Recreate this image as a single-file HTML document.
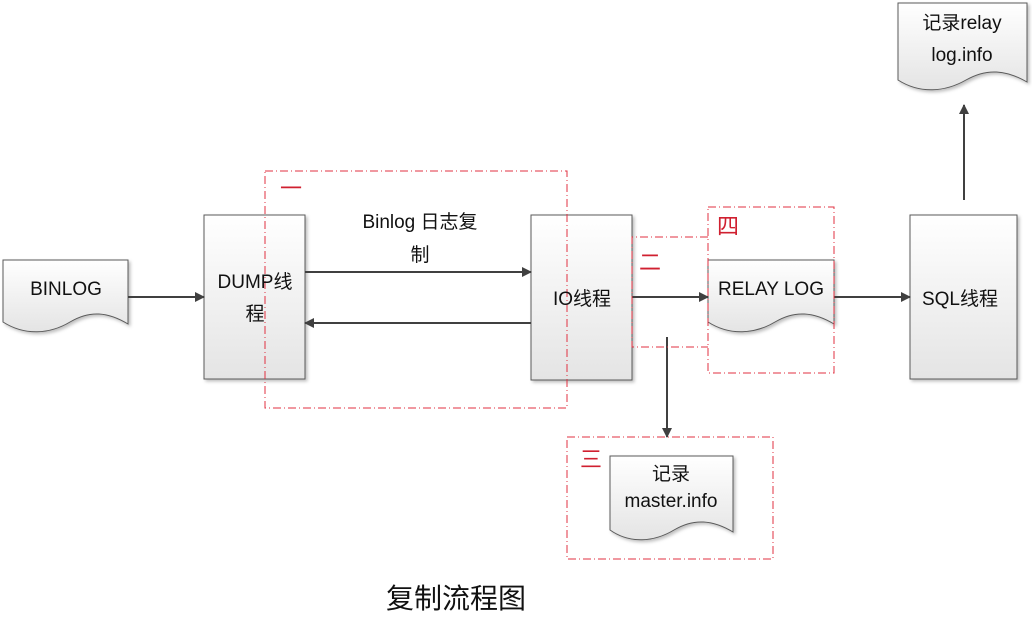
<!DOCTYPE html>
<html><head><meta charset="utf-8"><style>
html,body{margin:0;padding:0;background:#fff;}
svg{display:block;}
text{font-family:"Liberation Sans","Noto Sans CJK SC",sans-serif;fill:#111;}
</style></head><body>
<svg width="1032" height="624" viewBox="0 0 1032 624" xmlns="http://www.w3.org/2000/svg">
<defs>
<linearGradient id="g" x1="0" y1="0" x2="0" y2="1"><stop offset="0" stop-color="#ffffff"/><stop offset="1" stop-color="#e4e4e4"/></linearGradient>
<marker id="ah" markerWidth="10" markerHeight="10" refX="9" refY="5" orient="auto" markerUnits="userSpaceOnUse"><path d="M0,0 L10,5 L0,10 Z" fill="#404040"/></marker>
<filter id="sh" x="-10%" y="-10%" width="130%" height="130%"><feDropShadow dx="2" dy="2" stdDeviation="1.5" flood-color="#000" flood-opacity="0.25"/></filter>
</defs>
<g stroke="#5a5a5a" stroke-width="1" fill="url(#g)" filter="url(#sh)">
<!-- BINLOG doc -->
<path d="M3,260 H128 V324 C108,312 90,310 70,322 C50,334 25,336 3,322 Z"/>
<!-- DUMP box -->
<rect x="204" y="215" width="101" height="164"/>
<!-- IO box -->
<rect x="531" y="215" width="101" height="165"/>
<!-- RELAY LOG -->
<path d="M708,260 H834 V324 C814,312 795,310 775,322 C755,334 730,336 708,322 Z"/>
<!-- SQL box -->
<rect x="910" y="215" width="107" height="164"/>
<!-- relay log.info -->
<path d="M898,3 H1027 V82 C1006,70 987,68 966,80 C945,92 920,94 898,80 Z"/>
<!-- master.info -->
<path d="M610,456 H733 V532 C713,520 694,518 674,530 C654,542 630,544 610,530 Z"/>
</g>
<!-- arrows -->
<g stroke="#404040" stroke-width="2" fill="none">
<line x1="128" y1="297" x2="204" y2="297" marker-end="url(#ah)"/>
<line x1="305" y1="272" x2="531" y2="272" marker-end="url(#ah)"/>
<line x1="531" y1="323" x2="305" y2="323" marker-end="url(#ah)"/>
<line x1="632" y1="297" x2="708" y2="297" marker-end="url(#ah)"/>
<line x1="834" y1="297" x2="910" y2="297" marker-end="url(#ah)"/>
<line x1="964" y1="200" x2="964" y2="105" marker-end="url(#ah)"/>
<line x1="667" y1="337" x2="667" y2="437" marker-end="url(#ah)"/>
</g>
<!-- red dashed boxes -->
<g stroke="#e03040" stroke-width="1" fill="none" stroke-dasharray="8,3,1,3">
<rect x="265" y="171" width="302" height="237"/>
<path d="M708,237 H632 V347 H708"/>
<rect x="708" y="207" width="126" height="166"/>
<rect x="567" y="437" width="206" height="122"/>
</g>
<g style="font-size:22px">
<text x="280" y="196" style="fill:#d02030">一</text>
<text x="639" y="270" style="fill:#d02030">二</text>
<text x="717" y="234" style="fill:#d02030">四</text>
<text x="580" y="467" style="fill:#d02030">三</text>
</g>
<g style="font-size:19px" text-anchor="middle">
<text x="66" y="295">BINLOG</text>
<text x="255" y="288">DUMP线</text>
<text x="255" y="320">程</text>
<text x="420" y="228">Binlog 日志复</text>
<text x="420" y="261">制</text>
<text x="582" y="305">IO线程</text>
<text x="771" y="295">RELAY LOG</text>
<text x="960" y="305">SQL线程</text>
<text x="962" y="29">记录relay</text>
<text x="962" y="61">log.info</text>
<text x="671" y="480">记录</text>
<text x="671" y="507">master.info</text>
<text x="456" y="608" style="font-size:28px">复制流程图</text>
</g>
</svg>
</body></html>
